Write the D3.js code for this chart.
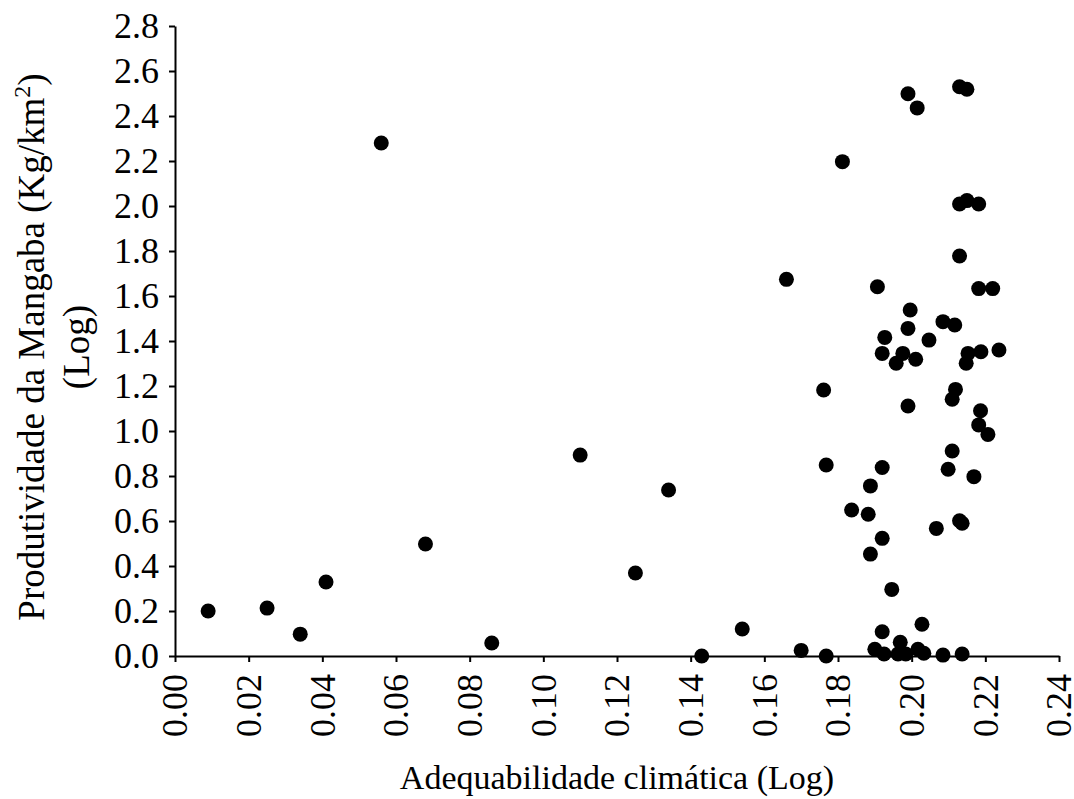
<!DOCTYPE html>
<html lang="pt">
<head>
    <meta charset="UTF-8">
    <title>Adequabilidade climática vs Produtividade da Mangaba</title>
    <script src="https://d3js.org/d3.v7.min.js"></script>
    <style>
        body { margin: 0; background: white; }
        svg { display: block; font-family: "Liberation Serif", "Times New Roman", serif; }
    </style>
</head>
<body>
    <svg width="1074" height="799"></svg>

    <script>
        // Adequabilidade climática (Log) - x values
        const adequabilidade = [
            0.009, 0.025, 0.034, 0.041, 0.056, 0.068, 0.086, 0.110, 0.125, 0.134,
            0.143, 0.154, 0.170, 0.166, 0.1768, 0.1761, 0.1768, 0.1812, 0.1837, 0.1882,
            0.1888, 0.1888, 0.190, 0.1907, 0.192, 0.192, 0.192, 0.1925, 0.1927, 0.192,
            0.1946, 0.1958, 0.1963, 0.1969, 0.1976, 0.1984, 0.199, 0.199, 0.199, 0.1996,
            0.2011, 0.2015, 0.2017, 0.2028, 0.2033, 0.2047, 0.2067, 0.2085, 0.2085, 0.2099,
            0.211, 0.211, 0.2117, 0.2119, 0.213, 0.213, 0.213, 0.213, 0.2137, 0.2137,
            0.2148, 0.2153, 0.215, 0.215, 0.2169, 0.2182, 0.2182, 0.2182, 0.2187, 0.2188,
            0.2207, 0.222, 0.2237
        ];
        // Produtividade da Mangaba (Log) - y values
        const produtividade = [
            0.20, 0.213, 0.097, 0.329, 2.28, 0.498, 0.058, 0.893, 0.369, 0.738,
            0.0, 0.12, 0.025, 1.674, 0.0, 1.182, 0.849, 2.197, 0.649, 0.630,
            0.756, 0.453, 0.030, 1.641, 0.838, 0.523, 0.108, 0.009, 1.416, 1.345,
            0.296, 1.301, 0.009, 0.061, 1.345, 0.009, 2.499, 1.456, 1.111, 1.538,
            1.319, 2.436, 0.030, 0.141, 0.012, 1.404, 0.567, 1.486, 0.004, 0.830,
            0.911, 1.141, 1.471, 1.185, 2.53, 2.009, 1.778, 0.601, 0.590, 0.009,
            1.301, 1.345, 2.519, 2.024, 0.797, 2.009, 1.633, 1.027, 1.09, 1.352,
            0.985, 1.633, 1.36
        ];
        const xTicks = d3.range(0, 0.2401, 0.02);
        const yTicks = d3.range(0, 2.8001, 0.2);

        const data = adequabilidade.map((v, i) => ({x: v, y: produtividade[i]}));

        const svg = d3.select("svg");

        const x = d3.scaleLinear().domain([0, 0.24]).range([175, 1059]);
        const y = d3.scaleLinear().domain([0, 2.8]).range([656, 26]);

        // x axis
        const xAxis = svg.append("g")
            .attr("transform", "translate(0,656)")
            .call(d3.axisBottom(x).tickValues(xTicks).tickFormat(d3.format(".2f"))
                .tickSize(6).tickSizeOuter(0));
        xAxis.selectAll("text")
            .attr("font-size", "36px")
            .attr("font-family", "Liberation Serif, Times New Roman, serif")
            .attr("fill", "#000")
            .attr("text-anchor", "end")
            .attr("transform", "rotate(-90)")
            .attr("x", -18)
            .attr("y", 0)
            .attr("dy", "0.33em");

        // y axis
        const yAxis = svg.append("g")
            .attr("transform", "translate(175,0)")
            .call(d3.axisLeft(y).tickValues(yTicks).tickFormat(d3.format(".1f"))
                .tickSize(6).tickSizeOuter(0).tickPadding(10));
        yAxis.selectAll("text")
            .attr("font-size", "36px")
            .attr("font-family", "Liberation Serif, Times New Roman, serif")
            .attr("fill", "#000");

        svg.selectAll(".domain, .tick line")
            .attr("stroke", "#000")
            .attr("stroke-width", 2);

        // points
        svg.append("g")
            .selectAll("circle")
            .data(data)
            .enter()
            .append("circle")
            .attr("cx", d => x(d.x))
            .attr("cy", d => y(d.y))
            .attr("r", 7.5)
            .attr("fill", "#000");

        // x axis title
        svg.append("text")
            .attr("x", 617)
            .attr("y", 789)
            .attr("text-anchor", "middle")
            .attr("font-size", "34px")
            .text("Adequabilidade climática (Log)");

        // y axis title (two lines)
        const yTitle = svg.append("text")
            .attr("transform", "translate(44,347) rotate(-90)")
            .attr("text-anchor", "middle")
            .attr("font-size", "37px");
        const line1 = yTitle.append("tspan").attr("x", 0).attr("y", 0);
        line1.append("tspan").text("Produtividade da Mangaba (Kg/km");
        line1.append("tspan").attr("font-size", "24px").attr("dy", -14).text("2");
        line1.append("tspan").attr("dy", 14).text(")");
        yTitle.append("tspan").attr("x", 0).attr("y", 45).text("(Log)");
    </script>
</body>
</html>
